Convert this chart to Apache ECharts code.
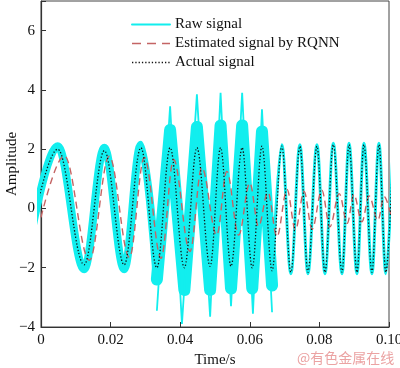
<!DOCTYPE html>
<html><head><meta charset="utf-8">
<script src="https://cdn.jsdelivr.net/npm/echarts@6/dist/echarts.min.js"></script>
<style>html,body{margin:0;padding:0;background:#fff}#c{width:400px;height:368px}</style>
</head><body><div id="c"></div>
<script>
// Extrema of the actual signal (time in s, amplitude)
const actualT = [-0.0048, 0.0048, 0.0124, 0.0182, 0.0239, 0.0287, 0.0333, 0.0371, 0.0412, 0.0448, 0.0486, 0.0516, 0.0546, 0.0578, 0.0607, 0.0635, 0.0664, 0.0692, 0.0718, 0.0744, 0.0767, 0.0793, 0.0816, 0.0840, 0.0865, 0.0885, 0.0908, 0.0928, 0.0951, 0.0971, 0.0991, 0.1012];
const actualV = [-2.0, 2.0, -1.9, 1.95, -1.9, 2.05, -2.0, 2.05, -2.0, 2.05, -1.95, 2.05, -1.95, 2.05, -2.0, 2.1, -2.1, 2.1, -2.15, 2.1, -2.15, 2.1, -2.15, 2.15, -2.15, 2.15, -2.15, 2.15, -2.15, 2.15, -2.15, 2.15];
// Raw signal: centre of the noisy band at the same instants
const rawV = [-2.1, 2.1, -2.05, 2.05, -2.05, 2.15, -2.4, 2.65, -2.75, 2.75, -2.75, 2.8, -2.7, 2.8, -2.7, 2.6, -2.6, 2.15, -2.2, 2.15, -2.2, 2.15, -2.2, 2.2, -2.2, 2.2, -2.2, 2.2, -2.2, 2.2, -2.2, 2.2];
// Raw signal noise spike tips in the disturbed section
const spikeT = [0.0333, 0.0371, 0.0405, 0.0448, 0.0486, 0.0516, 0.0546, 0.0578, 0.0609, 0.0635, 0.0664];
const spikeV = [-3.45, 3.45, -3.9, 3.85, -3.65, 3.9, -3.3, 3.9, -3.55, 3.35, -3.5];
// Estimated signal by RQNN (extrema)
const estT = [0, 0.0067, 0.0139, 0.0196, 0.0254, 0.0297, 0.0345, 0.0381, 0.0428, 0.0462, 0.0505, 0.0534, 0.0568, 0.0600, 0.0625, 0.0652, 0.0678, 0.0707, 0.0731, 0.0756, 0.0779, 0.0807, 0.0830, 0.0857, 0.0880, 0.0899, 0.0922, 0.0943, 0.0968, 0.0986, 0.1008];
const estV = [-0.3, 1.78, -1.75, 1.76, -1.65, 1.72, -1.68, 1.65, -1.45, 1.38, -0.9, 1.25, -0.9, 0.86, -0.6, 0.55, -0.95, 0.64, -0.72, 0.57, -0.7, 0.62, -0.62, 0.5, -0.5, 0.47, -0.45, 0.42, -0.4, 0.4, -0.35];
const xTickLabels = ['0', '0.02', '0.04', '0.06', '0.08', '0.10'];
const yTickLabels = ['\u22124', '\u22122', '0', '2', '4', '6'];

const pairs = (ts, vs) => ts.map((t, i) => [t, vs[i]]);
const rawAll = pairs(actualT, rawV);
const rawEarly = rawAll.filter(p => p[0] <= 0.0334);
const rawMid = rawAll.filter(p => p[0] >= 0.0332 && p[0] <= 0.0665);
const rawLate = rawAll.filter(p => p[0] >= 0.0663);

const CYAN = '#12eeee';
const RED = '#c46464';
const BLACK = '#111';
const SERIF = 'Liberation Serif';
const DOT = [1.3, 2.0];
const DASH = [7, 4.5];
const base = {type: 'line', symbol: 'none', showSymbol: false, smooth: 0.36, smoothMonotone: 'x', clip: true, z: 2};

const chart = echarts.init(document.getElementById('c'), null, {renderer: 'canvas'});
chart.setOption({
  animation: false,
  backgroundColor: '#fff',
  grid: {left: 41, right: 11, top: 1, bottom: 41, show: true, borderColor: '#444', borderWidth: 1, containLabel: false, outerBoundsMode: 'none'},
  legend: {
    orient: 'vertical', left: 126, top: 12, itemWidth: 38, itemHeight: 14, itemGap: 4,
    itemStyle: {opacity: 0},
    textStyle: {fontFamily: SERIF, fontSize: 15, color: '#111'},
    data: [
      {name: 'Raw signal', lineStyle: {width: 2, color: CYAN}},
      {name: 'Estimated signal by RQNN', lineStyle: {width: 1.4, color: RED, type: [9, 6]}},
      {name: 'Actual signal', lineStyle: {width: 1.3, color: BLACK, type: DOT}}
    ]
  },
  xAxis: {
    type: 'value', min: 0, max: 0.1, interval: 0.02,
    name: 'Time/s', nameLocation: 'middle', nameGap: 25,
    nameTextStyle: {fontFamily: SERIF, fontSize: 15, color: '#111'},
    axisLine: {show: true, onZero: false, lineStyle: {color: '#333', width: 1.2}},
    axisTick: {show: true, inside: true, length: 5, lineStyle: {color: '#333'}},
    axisLabel: {margin: 6, fontFamily: SERIF, fontSize: 15, color: '#111',
      formatter: v => xTickLabels[Math.round(v / 0.02)]},
    splitLine: {show: false}
  },
  yAxis: {
    type: 'value', min: -4, max: 7, interval: 2,
    name: 'Amplitude', nameLocation: 'middle', nameGap: 21, nameMoveOverlap: false,
    nameTextStyle: {fontFamily: SERIF, fontSize: 15, color: '#111'},
    axisLine: {show: true, onZero: false, lineStyle: {color: '#333', width: 1.2}},
    axisTick: {show: true, inside: true, length: 5, lineStyle: {color: '#333'}},
    axisLabel: {margin: 6, fontFamily: SERIF, fontSize: 15, color: '#111',
      formatter: v => yTickLabels[Math.round((v + 4) / 2)]},
    splitLine: {show: false}
  },
  graphic: [{type: 'text', left: 297, top: 351, style: {text: '@有色金属在线', fontFamily: 'Noto Sans CJK SC', fontSize: 14, fill: '#eba3a3'}}],
  series: [
    Object.assign({}, base, {name: 'Raw signal', data: rawEarly, itemStyle: {color: CYAN}, lineStyle: {color: CYAN, width: 8, cap: 'round', join: 'round'}}),
    Object.assign({}, base, {name: 'Raw signal', data: rawMid, smooth: false, itemStyle: {color: CYAN}, lineStyle: {color: CYAN, width: 12, cap: 'round', join: 'round'}}),
    Object.assign({}, base, {name: 'Raw signal', data: rawLate, itemStyle: {color: CYAN}, lineStyle: {color: CYAN, width: 3, cap: 'round', join: 'round'}}),
    {type: 'line', name: 'Raw signal', symbol: 'none', showSymbol: false, smooth: false, clip: true, z: 2, data: pairs(spikeT, spikeV), itemStyle: {color: CYAN}, lineStyle: {color: CYAN, width: 1.8}},
    Object.assign({}, base, {name: 'Estimated signal by RQNN', z: 3, data: pairs(estT, estV), itemStyle: {color: RED}, lineStyle: {color: RED, width: 1.4, type: DASH}}),
    Object.assign({}, base, {name: 'Actual signal', z: 4, data: pairs(actualT, actualV), itemStyle: {color: BLACK}, lineStyle: {color: BLACK, width: 1.3, type: DOT}})
  ]
});
</script></body></html>
